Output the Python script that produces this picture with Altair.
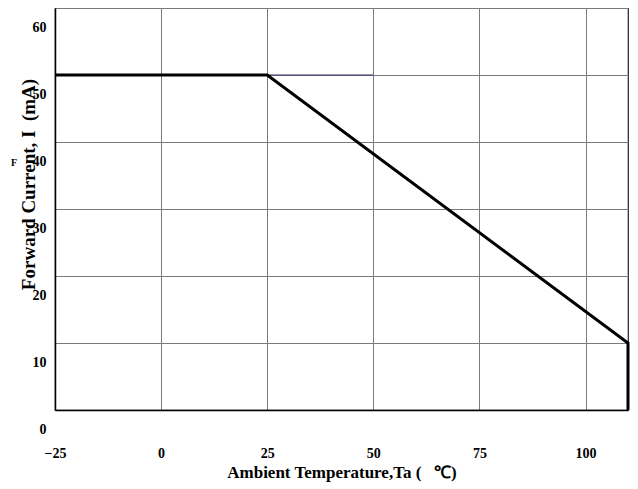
import altair as alt
import pandas as pd

# Derating curve: forward current vs ambient temperature
temps = [-25, 25, 110, 110]
currents = [50, 50, 10, 0]
order = [0, 1, 2, 3]

x_ticks = [-25, 0, 25, 50, 75, 100]
y_ticks = [0, 10, 20, 30, 40, 50, 60]

# thin coloured segment on the 50 mA grid line
hl_x = [25]
hl_x2 = [50]
hl_y = [50]

FONT = "Liberation Serif"

curve = pd.DataFrame({"t": temps, "i": currents, "o": order})
hl = pd.DataFrame({"x": hl_x, "x2": hl_x2, "y": hl_y})

xs = alt.Scale(domain=[-25, 110], nice=False, zero=False)
ys = alt.Scale(domain=[0, 60], nice=False)

x_axis = alt.Axis(values=x_ticks, title="Ambient Temperature,Ta (\u00a0\u00a0\u00a0℃)",
                  grid=True, gridColor="#7a7a7a", gridWidth=1,
                  tickSize=0, labelPadding=36, labelFont=FONT, labelFontWeight="bold",
                  labelFontSize=14, labelColor="#000", titleFont=FONT, titleFontWeight="bold",
                  titleFontSize=17, titleColor="#000",
                  titleY=62, titleBaseline="middle", titleAlign="center",
                  domainColor="#000", domainWidth=1.5, labelFlush=False)
y_axis = alt.Axis(values=y_ticks, title="Forward Current, I\u00a0\u00a0(mA)",
                  grid=True, gridColor="#7a7a7a", gridWidth=1,
                  tickSize=0, labelPadding=9, labelOffset=19, labelFont=FONT,
                  labelFontWeight="bold", labelFontSize=14, labelColor="#000",
                  titleFont=FONT, titleFontWeight="bold", titleFontSize=19, titleColor="#000",
                  titleX=-27, titleY=176, titleAlign="center", titleBaseline="middle",
                  titleAngle=270, domainColor="#000", domainWidth=1.5, labelFlush=False)

base = alt.Chart(curve).mark_line(color="#000", strokeWidth=3, strokeJoin="miter").encode(
    x=alt.X("t:Q", scale=xs, axis=x_axis),
    y=alt.Y("i:Q", scale=ys, axis=y_axis),
    order="o:Q",
)

rule = alt.Chart(hl).mark_rule(color="#2e2e6e", strokeWidth=1).encode(
    x=alt.X("x:Q", scale=xs), x2="x2:Q", y=alt.Y("y:Q", scale=ys)
)

sub = alt.Chart(pd.DataFrame({"s": ["F"]})).mark_text(
    font=FONT, fontWeight="bold", fontSize=10, color="#000"
).encode(text="s:N", x=alt.value(-41), y=alt.value(155))

chart = alt.layer(rule, base, sub).properties(
    width=573, height=402,
    padding={"left": 47, "top": 0, "right": 2, "bottom": 75},
    autosize=alt.AutoSizeParams(type="none"),
    background="white",
).configure_view(stroke="#222", strokeWidth=1.2)

chart.save("out.html", embed_options={"renderer": "svg", "actions": False})
